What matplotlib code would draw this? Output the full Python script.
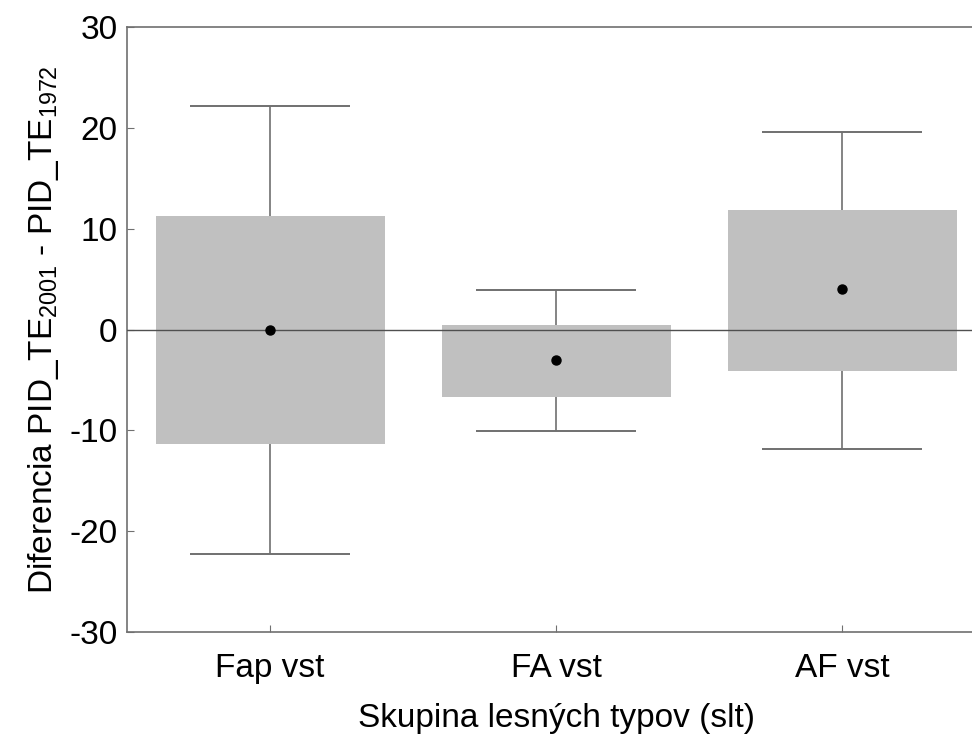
import matplotlib
matplotlib.use('Agg')
import matplotlib.pyplot as plt
import numpy as np

# hodnoty odčítané z obrázku
groups = ['Fap vst', 'FA vst', 'AF vst']
means = [0.0, -3.0, 4.0]
box_low = [-11.4, -6.7, -4.1]
box_high = [11.3, 0.5, 11.9]
whisk_low = [-22.3, -10.1, -11.8]
whisk_high = [22.2, 3.9, 19.6]

plt.rcParams['font.family'] = ['Liberation Sans', 'DejaVu Sans']
plt.rcParams['mathtext.fontset'] = 'custom'
plt.rcParams['mathtext.rm'] = 'Liberation Sans'
plt.rcParams['mathtext.it'] = 'Liberation Sans'
plt.rcParams['axes.unicode_minus'] = False

fig = plt.figure(figsize=(9.72, 7.34), dpi=100)
ax = fig.add_axes([0.1307, 0.139, 0.883, 0.824])

x = np.arange(len(groups))
box_color = '#c0c0c0'
line_color = '#707070'

ax.axhline(0, color='#505050', lw=1, zorder=3)

for i in x:
    ax.bar(i, box_high[i] - box_low[i], bottom=box_low[i], width=0.8,
           color=box_color, edgecolor='none', zorder=2)
    ax.vlines(i, box_high[i], whisk_high[i], color=line_color, lw=1.2, zorder=2)
    ax.vlines(i, whisk_low[i], box_low[i], color=line_color, lw=1.2, zorder=2)
    ax.hlines([whisk_high[i], whisk_low[i]], i - 0.28, i + 0.28,
              color=line_color, lw=1.4, zorder=2)

ax.plot(x, means, 'o', color='black', ms=6.5, zorder=4)

ax.set_xlim(-0.5, 2.5)
ax.set_ylim(-30, 30)
ax.set_yticks(np.arange(-30, 31, 10))
ax.set_xticks(x)
ax.set_xticklabels(groups)

for s in ax.spines.values():
    s.set_color('#707070')
    s.set_linewidth(1.2)

ax.tick_params(direction='in', length=5, color='#707070', labelsize=24, pad=7)
ax.tick_params(axis='x', labelsize=24, pad=15)

ax.set_xlabel('Skupina lesných typov (slt)', fontsize=24, labelpad=14)
ax.set_ylabel('Diferencia PID_TE$_{2001}$ - PID_TE$_{1972}$', fontsize=24, labelpad=6)

fig.savefig('out.png', dpi=100)
